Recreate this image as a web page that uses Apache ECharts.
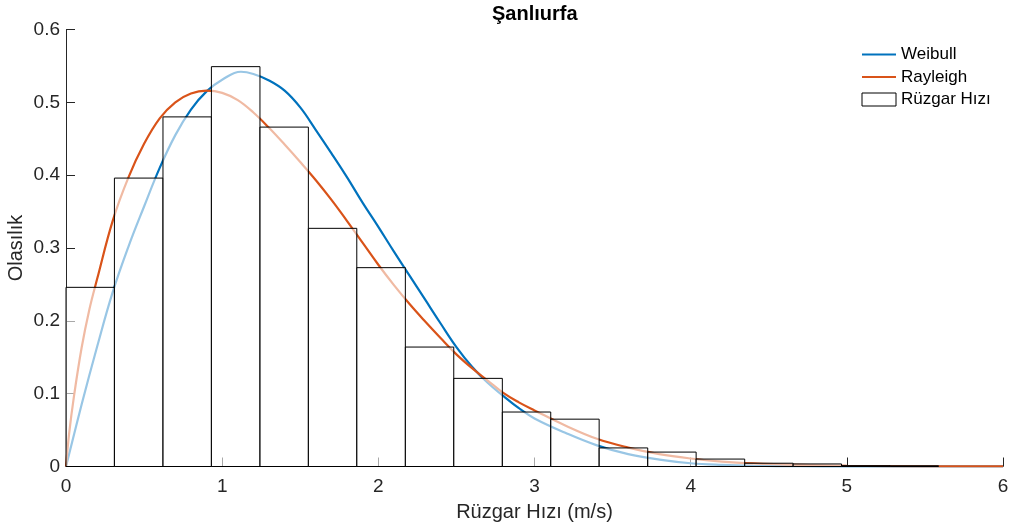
<!DOCTYPE html>
<html>
<head>
<meta charset="utf-8">
<script src="https://cdn.jsdelivr.net/npm/echarts@6/dist/echarts.min.js"></script>
<style>html,body{margin:0;padding:0;background:#fff}#c{width:1009px;height:531px}</style>
</head>
<body>
<div id="c"></div>
<script>
// Histogram bin edges (m/s) and heights (probability density)
const binEdges = [0, 0.310, 0.621, 0.931, 1.242, 1.552, 1.862, 2.173, 2.483, 2.794, 3.104, 3.414, 3.725, 4.035, 4.346, 4.656, 4.966, 5.277, 5.587];
const binHeights = [0.246, 0.396, 0.480, 0.549, 0.466, 0.327, 0.273, 0.164, 0.121, 0.0748, 0.065, 0.0255, 0.0198, 0.0102, 0.0045, 0.0035, 0.0012, 0.001];

// Weibull curve points
const weibullX = [0, 0.1, 0.2, 0.3, 0.4, 0.5, 0.6, 0.7, 0.8, 0.9, 1.0, 1.12, 1.2, 1.3, 1.4, 1.5, 1.6, 1.7, 1.8, 1.9, 2.0, 2.1, 2.2, 2.3, 2.4, 2.5, 2.6, 2.7, 2.8, 2.9, 3.0, 3.2, 3.4, 3.6, 3.8, 4.0, 4.2, 4.4, 4.7, 5.0, 5.5, 6.0];
const weibullY = [0, 0.085, 0.165, 0.240, 0.302, 0.357, 0.410, 0.455, 0.490, 0.515, 0.531, 0.542, 0.539, 0.530, 0.516, 0.493, 0.462, 0.430, 0.397, 0.362, 0.329, 0.295, 0.262, 0.229, 0.196, 0.164, 0.137, 0.115, 0.097, 0.080, 0.066, 0.046, 0.029, 0.017, 0.0095, 0.0045, 0.0022, 0.001, 0.0004, 0.0001, 0, 0];

// Rayleigh curve points
const rayleighX = [0, 0.02, 0.05, 0.1, 0.15, 0.2, 0.3, 0.4, 0.5, 0.6, 0.7, 0.8, 0.9, 1.0, 1.1, 1.2, 1.3, 1.4, 1.5, 1.6, 1.7, 1.8, 1.9, 2.0, 2.1, 2.2, 2.3, 2.4, 2.5, 2.6, 2.7, 2.8, 2.9, 3.0, 3.2, 3.4, 3.6, 3.8, 4.0, 4.2, 4.4, 4.7, 5.0, 5.5, 6.0];
const rayleighY = [0, 0.045, 0.095, 0.163, 0.216, 0.258, 0.338, 0.397, 0.443, 0.478, 0.500, 0.512, 0.516, 0.513, 0.503, 0.486, 0.465, 0.442, 0.418, 0.393, 0.366, 0.337, 0.307, 0.277, 0.249, 0.223, 0.199, 0.176, 0.154, 0.135, 0.118, 0.101, 0.088, 0.077, 0.056, 0.038, 0.026, 0.017, 0.011, 0.0068, 0.0043, 0.0022, 0.001, 0.0003, 0.0001];

const xTicks = [0, 1, 2, 3, 4, 5, 6];
const yTicks = [0, 0.1, 0.2, 0.3, 0.4, 0.5, 0.6];

const histData = binHeights.map((h, i) => [binEdges[i], binEdges[i + 1], h]);
const wData = weibullX.map((x, i) => [x, weibullY[i]]);
const rData = rayleighX.map((x, i) => [x, rayleighY[i]]);

const chart = echarts.init(document.getElementById('c'), null, {renderer: 'canvas'});
const axisColor = '#262626';
chart.setOption({
  animation: false,
  backgroundColor: '#fff',
  title: {
    text: 'Şanlıurfa', left: 492, top: 4, padding: 0,
    textStyle: {fontFamily: 'Liberation Sans', fontSize: 20, fontWeight: 'bold', color: '#000'}
  },
  grid: {left: 66, right: 6, top: 29.5, bottom: 64.5, containLabel: false, outerBoundsMode: 'none'},
  legend: {
    left: 856, top: 41, orient: 'vertical', itemWidth: 34, itemHeight: 13, itemGap: 5.5,
    textStyle: {fontFamily: 'Liberation Sans', fontSize: 17, color: '#000'},
    data: [
      {name: 'Weibull', itemStyle: {opacity: 0}},
      {name: 'Rayleigh', itemStyle: {opacity: 0}},
      {name: 'Rüzgar Hızı', icon: 'rect', itemStyle: {color: '#fff', borderColor: '#000', borderWidth: 1}}
    ]
  },
  xAxis: {
    type: 'value', min: 0, max: 6, interval: 1,
    name: 'Rüzgar Hızı (m/s)', nameLocation: 'middle', nameGap: 36, nameMoveOverlap: false,
    nameTextStyle: {fontFamily: 'Liberation Sans', fontSize: 20, color: axisColor},
    axisLine: {show: true, lineStyle: {color: axisColor, width: 1}},
    axisTick: {show: true, inside: true, length: 9, lineStyle: {color: axisColor}},
    axisLabel: {fontFamily: 'Liberation Sans', fontSize: 19, color: axisColor, margin: 11,
      formatter: v => xTicks.includes(v) ? String(v) : ''},
    splitLine: {show: false}
  },
  yAxis: {
    type: 'value', min: 0, max: 0.6, interval: 0.1,
    name: 'Olasılık', nameLocation: 'middle', nameGap: 40, nameRotate: 90, nameMoveOverlap: false,
    nameTextStyle: {fontFamily: 'Liberation Sans', fontSize: 20, color: axisColor},
    axisLine: {show: true, lineStyle: {color: axisColor, width: 1}},
    axisTick: {show: true, inside: true, length: 9, lineStyle: {color: axisColor}},
    axisLabel: {fontFamily: 'Liberation Sans', fontSize: 19, color: axisColor, margin: 6,
      formatter: v => { const t = yTicks.find(k => Math.abs(k - v) < 1e-9); return t === undefined ? '' : String(t); }},
    splitLine: {show: false}
  },
  series: [
    {
      name: 'Weibull', type: 'line', data: wData, symbol: 'none', smooth: 0.4, z: 2,
      lineStyle: {color: '#0072BD', width: 2.2}, itemStyle: {color: '#0072BD'}
    },
    {
      name: 'Rayleigh', type: 'line', data: rData, symbol: 'none', smooth: 0.4, z: 2,
      lineStyle: {color: '#D95319', width: 2.2}, itemStyle: {color: '#D95319'}
    },
    {
      name: 'Rüzgar Hızı', type: 'custom', z: 5,
      itemStyle: {color: '#fff', borderColor: '#000', borderWidth: 1},
      encode: {x: [0, 1], y: 2},
      data: histData,
      renderItem: function (params, api) {
        const p0 = api.coord([api.value(0), api.value(2)]);
        const p1 = api.coord([api.value(1), 0]);
        return {
          type: 'rect',
          shape: {x: p0[0], y: p0[1], width: p1[0] - p0[0], height: p1[1] - p0[1]},
          style: {fill: 'rgba(255,255,255,0.6)', stroke: '#000', lineWidth: 1}
        };
      }
    }
  ]
});
</script>
</body>
</html>
